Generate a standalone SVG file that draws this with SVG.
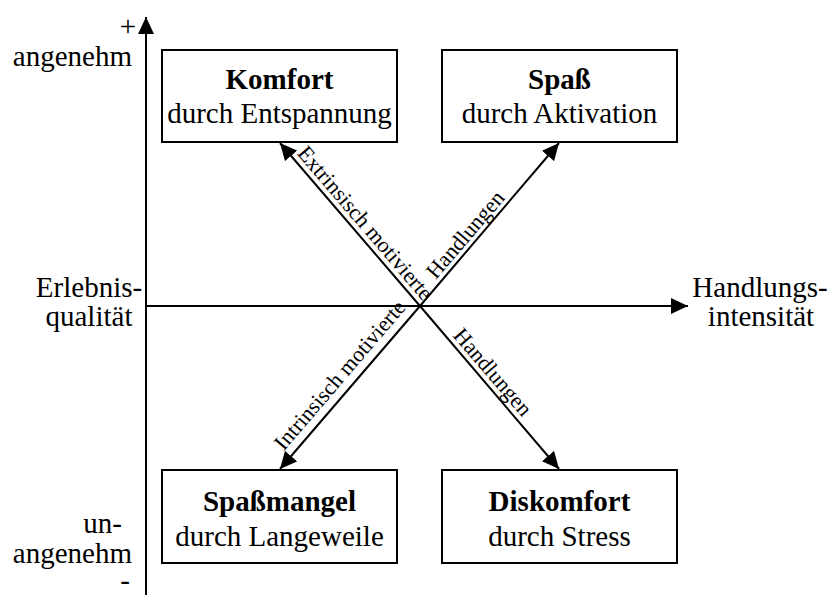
<svg xmlns="http://www.w3.org/2000/svg" width="829" height="595" viewBox="0 0 829 595" font-family="'Liberation Serif', 'DejaVu Serif', serif">
  <style>
    text { font-family: 'Liberation Serif', 'DejaVu Serif', serif; fill: #000; }
    .lbl { font-size: 29px; }
    .title { font-size: 29px; font-weight: bold; }
    .sub { font-size: 29px; }
    .diag { font-size: 22px; }
    .box { fill: #fff; stroke: #000; stroke-width: 2; }
    .axis, .conn { stroke: #000; stroke-width: 2; fill: none; }
  </style>
  <defs>
    <marker id="arrow" markerUnits="userSpaceOnUse" markerWidth="18" markerHeight="16" refX="17" refY="8" orient="auto">
      <path d="M0,0 L17,8 L0,16 z" fill="#000"/>
    </marker>
  </defs>
  <rect width="829" height="595" fill="#fff"/>

  <!-- axes -->
  <g id="axes">
    <line class="axis" x1="146" y1="595" x2="146" y2="17" marker-end="url(#arrow)"/>
    <line class="axis" x1="146" y1="306" x2="688" y2="306" marker-end="url(#arrow)"/>
    <text class="lbl" x="128" y="36" text-anchor="middle">+</text>
    <text class="lbl" x="132" y="66" text-anchor="end">angenehm</text>
    <text class="lbl" x="122" y="533" text-anchor="end">un-</text>
    <text class="lbl" x="132" y="563" text-anchor="end">angenehm</text>
    <text class="lbl" x="125" y="590" text-anchor="middle">-</text>
    <text class="lbl" x="89" y="297" text-anchor="middle">Erlebnis-</text>
    <text class="lbl" x="89" y="326" text-anchor="middle">qualität</text>
    <text class="lbl" x="760" y="297" text-anchor="middle">Handlungs-</text>
    <text class="lbl" x="761" y="326" text-anchor="middle">intensität</text>
  </g>

  <!-- connectors from the centre to the four quadrants -->
  <g id="connectors">
    <line class="conn" x1="420" y1="306" x2="280" y2="143" marker-end="url(#arrow)"/>
    <line class="conn" x1="420" y1="306" x2="559" y2="143" marker-end="url(#arrow)"/>
    <line class="conn" x1="420" y1="306" x2="280" y2="469" marker-end="url(#arrow)"/>
    <line class="conn" x1="420" y1="306" x2="559" y2="469" marker-end="url(#arrow)"/>
    <text class="diag" transform="translate(356,231) rotate(49.4)" x="0" y="-5" text-anchor="middle">Extrinsisch motivierte</text>
    <text class="diag" transform="translate(474.5,242.5) rotate(-49.4)" x="0" y="-5" text-anchor="middle">Handlungen</text>
    <text class="diag" transform="translate(483.5,380) rotate(49.4)" x="0" y="-5" text-anchor="middle">Handlungen</text>
    <text class="diag" transform="translate(349,383) rotate(-49.4)" x="0" y="-5" text-anchor="middle">Intrinsisch motivierte</text>
  </g>

  <g id="komfort">
    <rect class="box" x="162" y="50" width="235" height="92"/>
    <text class="title" x="279.5" y="89" text-anchor="middle">Komfort</text>
    <text class="sub" x="279.5" y="123" text-anchor="middle">durch Entspannung</text>
  </g>
  <g id="spass">
    <rect class="box" x="442" y="50" width="235" height="92"/>
    <text class="title" x="559.5" y="89" text-anchor="middle">Spaß</text>
    <text class="sub" x="559.5" y="123" text-anchor="middle">durch Aktivation</text>
  </g>
  <g id="spassmangel">
    <rect class="box" x="162" y="470" width="235" height="93"/>
    <text class="title" x="279.5" y="511" text-anchor="middle">Spaßmangel</text>
    <text class="sub" x="279.5" y="546" text-anchor="middle">durch Langeweile</text>
  </g>
  <g id="diskomfort">
    <rect class="box" x="442" y="470" width="235" height="93"/>
    <text class="title" x="559.5" y="511" text-anchor="middle">Diskomfort</text>
    <text class="sub" x="559.5" y="546" text-anchor="middle">durch Stress</text>
  </g>
</svg>
